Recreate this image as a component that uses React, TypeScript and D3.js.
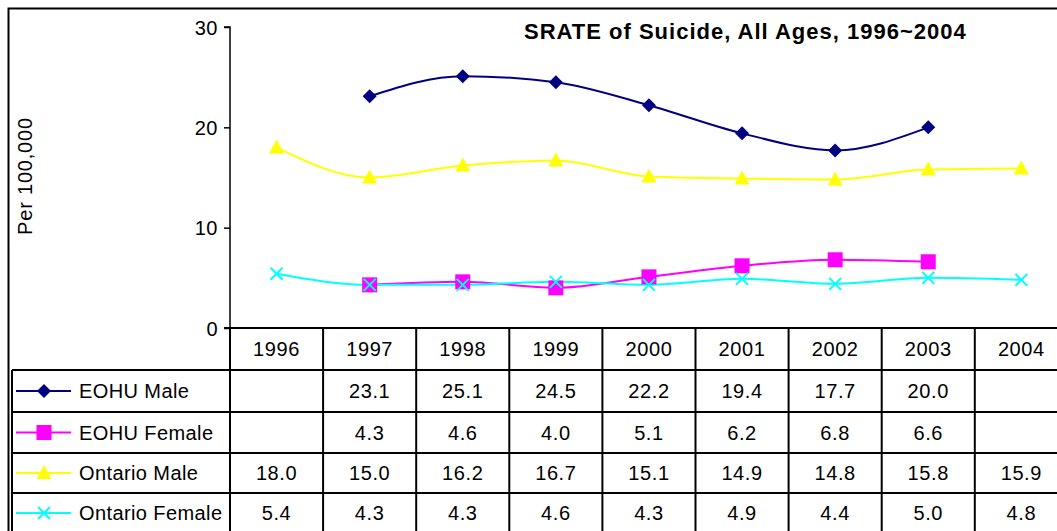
import React, { useEffect, useRef } from "react";
import * as d3 from "d3";

const years = ["1996", "1997", "1998", "1999", "2000", "2001", "2002", "2003", "2004"];
const eohuMale = [null, 23.1, 25.1, 24.5, 22.2, 19.4, 17.7, 20.0, null];
const eohuFemale = [null, 4.3, 4.6, 4.0, 5.1, 6.2, 6.8, 6.6, null];
const ontarioMale = [18.0, 15.0, 16.2, 16.7, 15.1, 14.9, 14.8, 15.8, 15.9];
const ontarioFemale = [5.4, 4.3, 4.3, 4.6, 4.3, 4.9, 4.4, 5.0, 4.8];
const yTicks = [0, 10, 20, 30];

const series = [
  { name: "EOHU Male", values: eohuMale, color: "#000080", marker: "diamond" },
  { name: "EOHU Female", values: eohuFemale, color: "#FF00FF", marker: "square" },
  { name: "Ontario Male", values: ontarioMale, color: "#FFFF00", marker: "triangle" },
  { name: "Ontario Female", values: ontarioFemale, color: "#00FFFF", marker: "cross" },
];

const W = 1057, H = 531;
const FONT = "'Liberation Sans', Arial, sans-serif";

function drawMarker(g: any, kind: string, cx: number, cy: number, color: string) {
  if (kind === "diamond") {
    g.append("path").attr("d", `M${cx},${cy - 7}L${cx + 7},${cy}L${cx},${cy + 7}L${cx - 7},${cy}Z`).attr("fill", color);
  } else if (kind === "square") {
    g.append("rect").attr("x", cx - 7.5).attr("y", cy - 7.5).attr("width", 15).attr("height", 15).attr("fill", color);
  } else if (kind === "triangle") {
    g.append("path").attr("d", `M${cx},${cy - 8}L${cx + 7.5},${cy + 6}L${cx - 7.5},${cy + 6}Z`).attr("fill", color);
  } else {
    g.append("path").attr("d", `M${cx - 6},${cy - 6}L${cx + 6},${cy + 6}M${cx + 6},${cy - 6}L${cx - 6},${cy + 6}`)
      .attr("stroke", color).attr("stroke-width", 2).attr("fill", "none");
  }
}

export default function App() {
  const ref = useRef<SVGSVGElement>(null);

  useEffect(() => {
    const svg = d3.select(ref.current);
    svg.selectAll("*").remove();

    const axisX = 230, colW = 93.1;
    const x = d3.scaleBand().domain(years).range([axisX, axisX + colW * years.length]);
    const y = d3.scaleLinear().domain([0, 30]).range([328, 27]);
    const rowTop = [328, 370, 412, 453, 493, 533];

    // outer border
    svg.append("rect").attr("x", 8.5).attr("y", 8.5).attr("width", W + 10).attr("height", H + 10)
      .attr("fill", "none").attr("stroke", "#000").attr("stroke-width", 2);

    // title
    svg.append("text").attr("x", 524).attr("y", 39).attr("font-family", FONT)
      .attr("font-size", 22).attr("font-weight", "bold").attr("letter-spacing", 1)
      .text("SRATE of Suicide, All Ages, 1996~2004");

    // y label
    svg.append("text").attr("transform", `translate(32,${176}) rotate(-90)`)
      .attr("text-anchor", "middle").attr("font-family", FONT).attr("font-size", 20)
      .attr("letter-spacing", 0.8)
      .text("Per 100,000");

    // y axis
    const yAxis = svg.append("g").attr("transform", `translate(${axisX},0)`)
      .call(d3.axisLeft(y).tickValues(yTicks).tickSize(6).tickPadding(6).tickFormat(d3.format("d")));
    yAxis.select(".domain").attr("stroke", "#000").attr("stroke-width", 1.5).attr("d", `M-6,${y(30)}H0V${y(0)}`);
    yAxis.selectAll(".tick line").attr("stroke", "#000").attr("stroke-width", 1.5);
    yAxis.selectAll(".tick text").attr("font-family", FONT).attr("font-size", 20).attr("fill", "#000")
      .attr("letter-spacing", 0.5).attr("dy", "0.35em");

    // table grid
    const grid = svg.append("g").attr("stroke", "#000").attr("stroke-width", 2).attr("fill", "none");
    grid.append("line").attr("x1", axisX - 6).attr("x2", W + 10).attr("y1", rowTop[0]).attr("y2", rowTop[0]);
    rowTop.slice(1).forEach((ry) => {
      grid.append("line").attr("x1", 12).attr("x2", W + 10).attr("y1", ry).attr("y2", ry);
    });
    grid.append("line").attr("x1", 12).attr("x2", 12).attr("y1", rowTop[1]).attr("y2", H + 5);
    years.forEach((yr) => {
      const bx = x(yr) as number;
      grid.append("line").attr("x1", bx).attr("x2", bx).attr("y1", rowTop[0]).attr("y2", H + 5);
    });
    const endX = (x(years[years.length - 1]) as number) + x.bandwidth();
    grid.append("line").attr("x1", endX).attr("x2", endX).attr("y1", rowTop[0]).attr("y2", H + 5);

    const cellText = (sel: any) => sel.attr("text-anchor", "middle").attr("font-family", FONT)
      .attr("font-size", 20).attr("letter-spacing", 0.6);

    // header years
    svg.append("g").selectAll("text").data(years).join("text")
      .attr("x", (d) => (x(d) as number) + x.bandwidth() / 2)
      .attr("y", (rowTop[0] + rowTop[1]) / 2 + 7)
      .call(cellText)
      .text((d) => d);

    // rows
    series.forEach((s, si) => {
      const cy = (rowTop[si + 1] + rowTop[si + 2]) / 2;
      const lg = svg.append("g");
      lg.append("line").attr("x1", 16).attr("x2", 71).attr("y1", cy).attr("y2", cy)
        .attr("stroke", s.color).attr("stroke-width", 2);
      drawMarker(lg, s.marker, 44, cy, s.color);
      lg.append("text").attr("x", 79).attr("y", cy + 7).attr("font-family", FONT).attr("font-size", 20)
        .attr("letter-spacing", 0.4)
        .text(s.name);
      svg.append("g").selectAll("text").data(s.values.map((v, i) => ({ v, yr: years[i] })).filter((d) => d.v != null))
        .join("text")
        .attr("x", (d) => (x(d.yr) as number) + x.bandwidth() / 2)
        .attr("y", cy + 7)
        .call(cellText)
        .text((d) => (d.v as number).toFixed(1));
    });

    // lines
    const plot = svg.append("g");
    series.forEach((s) => {
      const pts = s.values.map((v, i) => ({ v, yr: years[i] }));
      const line = d3.line<any>()
        .defined((d) => d.v != null)
        .x((d) => (x(d.yr) as number) + x.bandwidth() / 2)
        .y((d) => y(d.v))
        .curve(d3.curveMonotoneX);
      plot.append("path").attr("d", line(pts)).attr("fill", "none")
        .attr("stroke", s.color).attr("stroke-width", 2);
    });
    series.forEach((s) => {
      s.values.forEach((v, i) => {
        if (v == null) return;
        drawMarker(plot, s.marker, (x(years[i]) as number) + x.bandwidth() / 2, y(v), s.color);
      });
    });
  }, []);

  return (
    <svg ref={ref} width={W} height={H}
      style={{ position: "fixed", left: 0, top: 0, background: "#fff" }} />
  );
}
